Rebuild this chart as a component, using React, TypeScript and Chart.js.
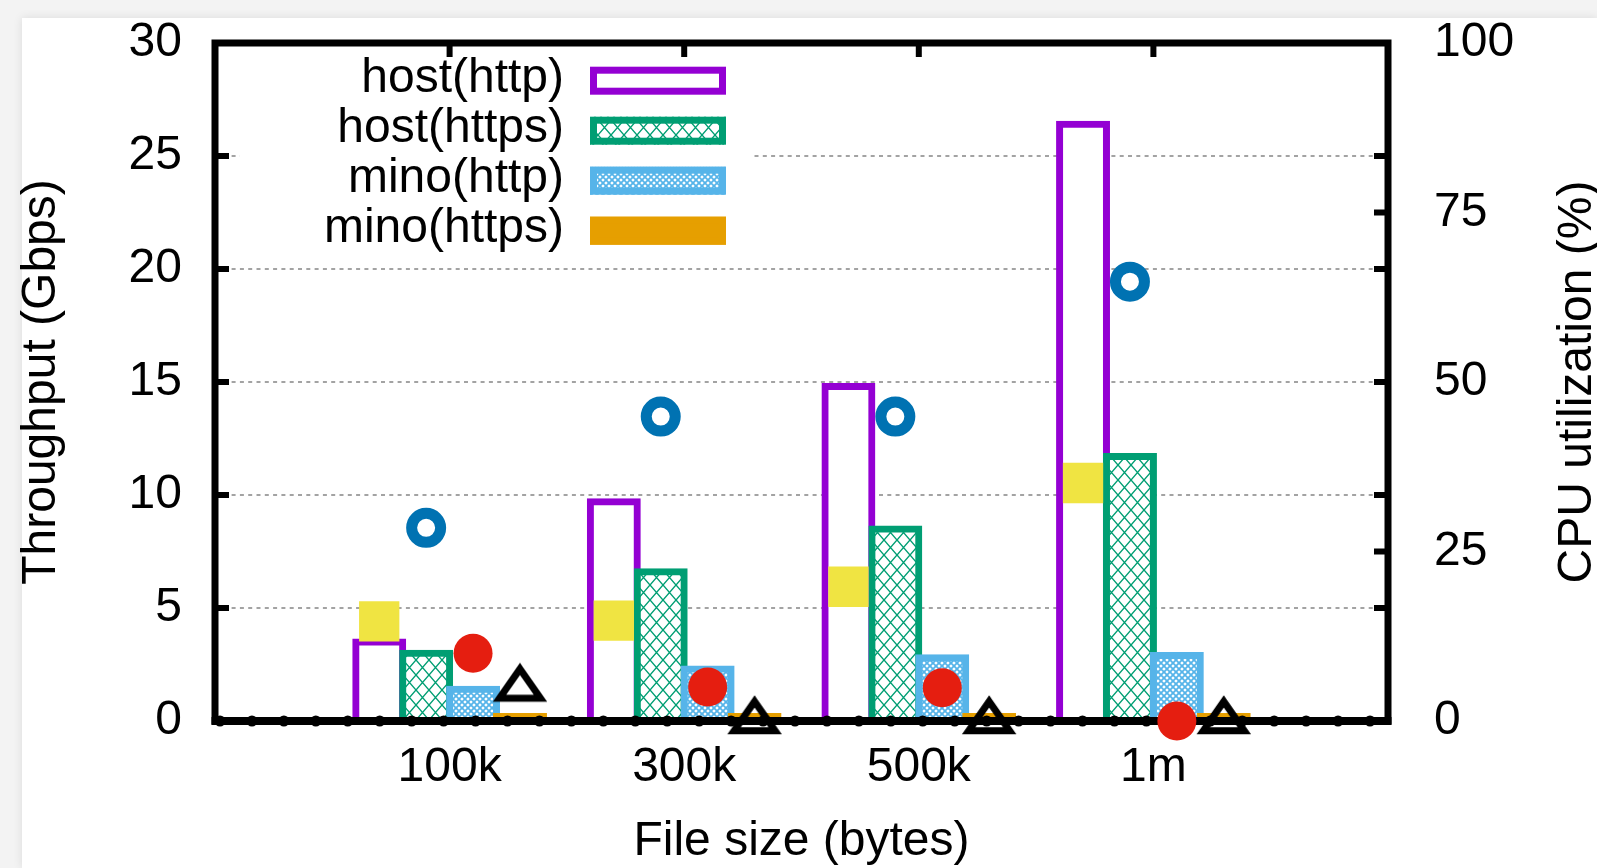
import { useEffect, useRef } from 'react';
import { Chart, registerables } from 'chart.js';

Chart.register(...registerables);

// ---------- data ----------
const categories = ['100k', '300k', '500k', '1m'];
const seriesLabels = ['host(http)', 'host(https)', 'mino(http)', 'mino(https)'];
const hostHttpGbps = [3.5, 9.7, 14.8, 26.4];
const hostHttpsGbps = [3.0, 6.6, 8.5, 11.7];
const minoHttpGbps = [1.4, 2.3, 2.8, 2.9];
const minoHttpsGbps = [0.2, 0.2, 0.2, 0.2];
const hostHttpCpu = [14.7, 14.8, 19.8, 35.1];
const hostHttpsCpu = [28.5, 44.9, 44.9, 64.8];
const minoHttpCpu = [10.0, 5.0, 4.9, 0.0];
const minoHttpsCpu = [4.8, 0.0, 0.0, 0.0];
const xTickLabels = ['', ...categories, ''];
const throughputTicks = [0, 5, 10, 15, 20, 25, 30];
const cpuTicks = [0, 25, 50, 75, 100];

// ---------- style ----------
const FONT = "'Liberation Sans', Arial, Helvetica, sans-serif";
const TEXT = '#000000';
const C_HOST_HTTP = '#9400d3';
const C_HOST_HTTPS = '#009e73';
const C_MINO_HTTP = '#56b4e9';
const C_MINO_HTTPS = '#e69f00';
const C_CPU1 = '#f0e442';
const C_CPU2 = '#0072b2';
const C_CPU3 = '#e51e10';
const C_CPU4 = '#000000';
const GROUP_WIDTH = 0.8; // fraction of a category taken by one bar cluster

function makeHatch(color: string, w: number, h: number, lw: number) {
  const c = document.createElement('canvas');
  c.width = w;
  c.height = h;
  const g = c.getContext('2d') as CanvasRenderingContext2D;
  g.fillStyle = '#ffffff';
  g.fillRect(0, 0, w, h);
  g.strokeStyle = color;
  g.lineWidth = lw;
  for (let k = -1; k <= 1; k++) {
    g.beginPath();
    g.moveTo(k * w, 0);
    g.lineTo(k * w + w, h);
    g.moveTo(k * w + w, 0);
    g.lineTo(k * w, h);
    g.stroke();
  }
  return g.createPattern(c, 'repeat') as CanvasPattern;
}

// open triangle marker (gnuplot-like, slightly flattened), centroid at image centre
function makeTriangle(color: string) {
  const c = document.createElement('canvas');
  c.width = 60;
  c.height = 58;
  const g = c.getContext('2d') as CanvasRenderingContext2D;
  g.strokeStyle = color;
  g.lineWidth = 7;
  g.lineJoin = 'miter';
  g.beginPath();
  g.moveTo(30, 9.4);
  g.lineTo(50.5, 38.8);
  g.lineTo(9.5, 38.8);
  g.closePath();
  g.stroke();
  return c;
}

function drawFrame(chart: any) {
  const { ctx, chartArea: a, scales } = chart;
  const TL = 14;
  ctx.save();
  ctx.strokeStyle = '#000';
  ctx.lineCap = 'butt';
  ctx.lineWidth = 6;
  ctx.beginPath();
  for (const t of scales.y.ticks) {
    const p = scales.y.getPixelForValue(t.value);
    ctx.moveTo(a.left, p);
    ctx.lineTo(a.left + TL, p);
    ctx.moveTo(a.right - TL, p);
    ctx.lineTo(a.right, p);
  }
  for (const t of scales.y2.ticks) {
    const p = scales.y2.getPixelForValue(t.value);
    ctx.moveTo(a.right - TL, p);
    ctx.lineTo(a.right, p);
  }
  categories.forEach((_, i) => {
    const px = scales.x.getPixelForValue(i + 1);
    ctx.moveTo(px, a.top);
    ctx.lineTo(px, a.top + TL);
  });
  ctx.stroke();
  ctx.lineWidth = 7;
  ctx.lineJoin = 'miter';
  ctx.strokeRect(a.left, a.top, a.right - a.left, a.bottom - a.top);
  ctx.lineWidth = 8;
  ctx.beginPath();
  ctx.moveTo(a.left - 3.5, a.bottom);
  ctx.lineTo(a.right + 3.5, a.bottom);
  ctx.stroke();
  // marks along the zero line
  const count = 37;
  const x0 = a.left + 5;
  const x1 = a.right - 18;
  ctx.fillStyle = '#000';
  for (let i = 0; i < count; i++) {
    const x = x0 + (i * (x1 - x0)) / (count - 1);
    ctx.beginPath();
    ctx.arc(x, a.bottom, 5.5, 0, Math.PI * 2);
    ctx.fill();
  }
  ctx.restore();
}

function drawLegend(chart: any) {
  const { ctx, chartArea: a } = chart;
  ctx.save();
  ctx.font = `48px ${FONT}`;
  ctx.textAlign = 'right';
  ctx.textBaseline = 'alphabetic';
  for (let i = 0; i < seriesLabels.length; i++) {
    const ds = chart.data.datasets[i];
    const base = a.top + 48.7 + i * 50;
    ctx.fillStyle = TEXT;
    ctx.fillText(ds.label, a.left + 349, base);
    const bx = a.left + 375;
    const by = base - 25;
    const bw = 136;
    const bh = 28;
    ctx.fillStyle = ds.backgroundColor;
    ctx.fillRect(bx, by, bw, bh);
    ctx.lineWidth = 7;
    ctx.strokeStyle = ds.borderColor;
    ctx.strokeRect(bx + 3.5, by + 3.5, bw - 7, bh - 7);
  }
  ctx.restore();
}

function drawRightTitle(chart: any) {
  const { ctx, chartArea: a } = chart;
  ctx.save();
  ctx.translate(1578, (a.top + a.bottom) / 2);
  ctx.rotate(-Math.PI / 2);
  ctx.font = `48px ${FONT}`;
  ctx.fillStyle = TEXT;
  ctx.textAlign = 'center';
  ctx.textBaseline = 'middle';
  ctx.fillText('CPU utilization (%)', 0, 0);
  ctx.restore();
}

const layerPlugin = {
  id: 'gnuplotLayers',
  beforeDatasetsDraw(chart: any) {
    const { ctx, chartArea: a } = chart;
    ctx.save();
    ctx.fillStyle = '#ffffff';
    ctx.fillRect(a.left + 25, a.top + 4, 511, 211);
    ctx.restore();
    const n = seriesLabels.length;
    for (let i = 0; i < n; i++) chart.getDatasetMeta(i).controller.draw();
    drawFrame(chart);
    for (let i = n; i < chart.data.datasets.length; i++) chart.getDatasetMeta(i).controller.draw();
    drawLegend(chart);
    drawRightTitle(chart);
    return false;
  },
};

const zeroPad = (s: any) => {
  s.paddingTop = 0;
  s.paddingBottom = 0;
  s.paddingLeft = 0;
  s.paddingRight = 0;
};

export default function App() {
  const ref = useRef<HTMLCanvasElement | null>(null);

  useEffect(() => {
    const canvas = ref.current;
    if (!canvas) return;
    const greenHatch = makeHatch(C_HOST_HTTPS, 13, 15, 1.4);
    const blueHatch = makeHatch(C_MINO_HTTP, 6, 6, 1.8);
    const triangle = makeTriangle(C_CPU4);

    const n = seriesLabels.length;
    const slot = GROUP_WIDTH / n;
    const xy = (arr: number[], k: number) =>
      arr.map((v, i) => ({ x: i + 1 + (k - (n - 1) / 2) * slot, y: v }));

    const barCommon = {
      type: 'bar',
      xAxisID: 'x',
      yAxisID: 'y',
      grouped: false,
      borderWidth: 7,
      inflateAmount: 3.5,
      borderSkipped: 'start',
      barPercentage: 1,
      categoryPercentage: 1,
    };
    const ptCommon = {
      type: 'line',
      showLine: false,
      xAxisID: 'x',
      yAxisID: 'y2',
    };

    const chart = new Chart(canvas, {
      type: 'bar',
      data: {
        datasets: [
          { ...barCommon, label: seriesLabels[0], data: xy(hostHttpGbps, 0), backgroundColor: '#ffffff', borderColor: C_HOST_HTTP },
          { ...barCommon, label: seriesLabels[1], data: xy(hostHttpsGbps, 1), backgroundColor: greenHatch, borderColor: C_HOST_HTTPS },
          { ...barCommon, label: seriesLabels[2], data: xy(minoHttpGbps, 2), backgroundColor: blueHatch, borderColor: C_MINO_HTTP },
          { ...barCommon, label: seriesLabels[3], data: xy(minoHttpsGbps, 3), backgroundColor: C_MINO_HTTPS, borderColor: C_MINO_HTTPS },
          { ...ptCommon, label: 'host(http) CPU', data: xy(hostHttpCpu, 0), pointStyle: 'rect', pointRadius: 28.5, pointBackgroundColor: C_CPU1, pointBorderWidth: 0, borderColor: C_CPU1, backgroundColor: C_CPU1 },
          { ...ptCommon, label: 'host(https) CPU', data: xy(hostHttpsCpu, 1), pointStyle: 'circle', pointRadius: 14.5, pointBackgroundColor: 'rgba(0,0,0,0)', pointBorderColor: C_CPU2, pointBorderWidth: 11, borderColor: C_CPU2 },
          { ...ptCommon, label: 'mino(http) CPU', data: xy(minoHttpCpu, 2), pointStyle: 'circle', pointRadius: 19.5, pointBackgroundColor: C_CPU3, pointBorderWidth: 0, borderColor: C_CPU3 },
          { ...ptCommon, label: 'mino(https) CPU', data: xy(minoHttpsCpu, 3), pointStyle: triangle, pointRadius: 22, pointBorderWidth: 0, borderColor: C_CPU4 },
        ],
      } as any,
      options: {
        responsive: false,
        maintainAspectRatio: false,
        animation: false,
        events: [],
        layout: { autoPadding: false, padding: { top: 43, left: 0, right: 0, bottom: 0 } },
        plugins: { legend: { display: false }, tooltip: { enabled: false }, title: { display: false } },
        scales: {
          x: {
            type: 'linear',
            position: 'bottom',
            offset: false,
            min: 0,
            max: xTickLabels.length - 1,
            afterBuildTicks: (s: any) => {
              s.ticks = xTickLabels.map((_, i) => ({ value: i }));
            },
            grid: { display: false, drawTicks: false },
            border: { display: false },
            ticks: {
              autoSkip: false,
              maxRotation: 0,
              minRotation: 0,
              padding: 17.6,
              color: TEXT,
              font: { family: FONT, size: 48 },
              callback: (_v: any, i: number) => xTickLabels[i] ?? '',
            },
            title: {
              display: true,
              text: 'File size (bytes)',
              color: TEXT,
              font: { family: FONT, size: 48, lineHeight: 0.8 },
              padding: { top: 0, bottom: 7 },
            },
            afterFit: (s: any) => {
              s.height = 147;
              zeroPad(s);
            },
          },
          y: {
            type: 'linear',
            position: 'left',
            min: throughputTicks[0],
            max: throughputTicks[throughputTicks.length - 1],
            afterBuildTicks: (s: any) => {
              s.ticks = throughputTicks.map((v) => ({ value: v }));
            },
            grid: {
              drawTicks: false,
              lineWidth: 2,
              color: (c: any) =>
                c.tick && (c.tick.value === throughputTicks[0] || c.tick.value === throughputTicks[throughputTicks.length - 1])
                  ? 'rgba(0,0,0,0)'
                  : '#a3a3a3',
            },
            border: { display: false, dash: [4, 4.3] },
            ticks: { padding: 33, color: TEXT, font: { family: FONT, size: 48 } },
            title: {
              display: true,
              text: 'Throughput (Gbps)',
              color: TEXT,
              font: { family: FONT, size: 48, lineHeight: 0.8 },
              padding: { top: 23, bottom: 0 },
            },
            afterFit: (s: any) => {
              s.width = 215;
              zeroPad(s);
            },
          },
          y2: {
            type: 'linear',
            position: 'right',
            min: cpuTicks[0],
            max: cpuTicks[cpuTicks.length - 1],
            afterBuildTicks: (s: any) => {
              s.ticks = cpuTicks.map((v) => ({ value: v }));
            },
            grid: { display: false, drawTicks: false },
            border: { display: false },
            ticks: { padding: 46, color: TEXT, font: { family: FONT, size: 48 } },
            afterFit: (s: any) => {
              s.width = 209;
              zeroPad(s);
            },
          },
        },
      } as any,
      plugins: [layerPlugin],
    });
    return () => chart.destroy();
  }, []);

  return (
    <div
      style={{
        position: 'fixed',
        left: 0,
        top: 0,
        width: 1597,
        height: 868,
        overflow: 'hidden',
        background: '#f3f3f3',
      }}
    >
      <div
        style={{
          position: 'absolute',
          left: 22,
          top: 18,
          right: 0,
          bottom: 0,
          background: '#ffffff',
          boxShadow: '0 0 9px rgba(0,0,0,0.10)',
        }}
      />
      <canvas
        ref={ref}
        width={1597}
        height={868}
        style={{ position: 'absolute', left: 0, top: 0, width: 1597, height: 868 }}
      />
    </div>
  );
}
